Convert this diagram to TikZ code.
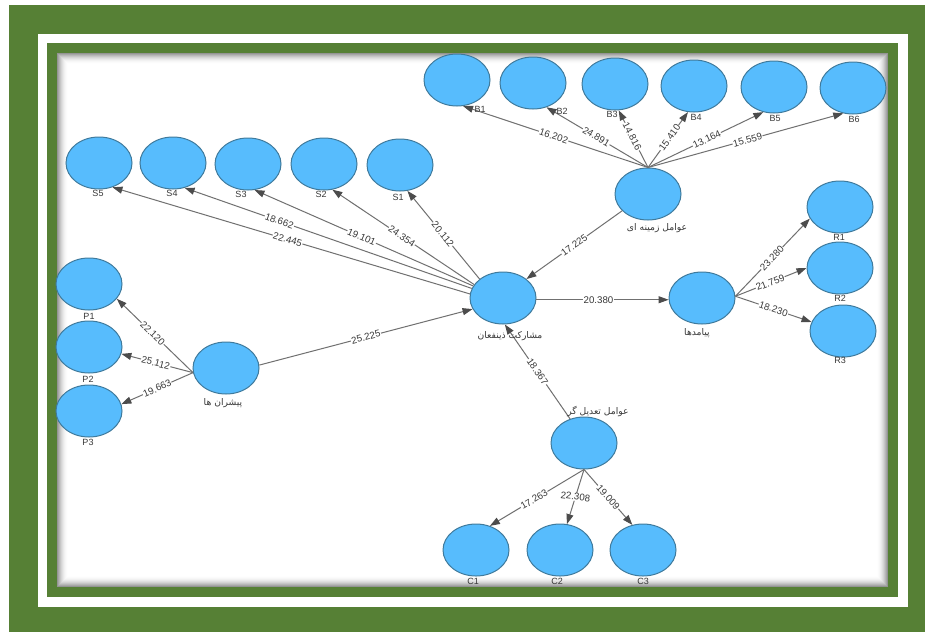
\documentclass[tikz,border=0pt]{standalone}
\usepackage{fontspec}
\setmainfont{Liberation Sans}
\newfontfamily\arabicfont[Script=Arabic]{DejaVu Sans}
\TeXXeTstate=1
\usetikzlibrary{arrows.meta,shapes.geometric}
\definecolor{frameg}{HTML}{568035}
\definecolor{ballb}{HTML}{57BCFD}
\definecolor{balle}{HTML}{3F7A9C}
\definecolor{linec}{HTML}{707070}
\definecolor{textc}{HTML}{383838}
\tikzset{
  lv/.style={ellipse,draw=balle,line width=1pt,fill=ballb,minimum width=66pt,minimum height=52pt,inner sep=0pt},
  conn/.style={draw=linec,line width=1pt,-{Triangle[length=10pt,width=7pt,color=black!70]}},
  elab/.style={fill=white,inner sep=0.6pt,font=\fontsize{9.7}{10}\selectfont,text=textc,sloped,pos=#1},
  elab/.default=0.51,
  ilab/.style={font=\fontsize{9}{10}\selectfont,text=textc,inner sep=0pt},
  alab/.style={font=\fontsize{9.2}{10}\selectfont\arabicfont,text=textc,inner sep=0pt}
}
\begin{document}
\begin{tikzpicture}[x=1pt,y=-1pt]
\useasboundingbox (0,0) rectangle (925,632);
\fill[white] (0,0) rectangle (925,632);
\fill[frameg] (9,5) rectangle (925,632);
\fill[white] (38,34) rectangle (908,607);
\fill[frameg] (47,43) rectangle (898,597);
\fill[white] (57,53) rectangle (888,587);
\foreach \i in {0,...,10}{
  \pgfmathsetmacro\g{42*(1-\i/11)*(1-\i/11)}
  \draw[black!\g,line width=1pt] (57.5+\i,53.5+\i) rectangle (887.5-\i,586.5-\i);
}
% latent variables
\node[lv] (B1) at (457,80) {};
\node[lv] (B2) at (533,83) {};
\node[lv] (B3) at (615,84) {};
\node[lv] (B4) at (694,86) {};
\node[lv] (B5) at (774,87) {};
\node[lv] (B6) at (853,88) {};
\node[lv] (Z) at (648,194) {};
\node[lv] (R1) at (840,207) {};
\node[lv] (R2) at (840,268) {};
\node[lv] (R3) at (843,331) {};
\node[lv] (S5) at (99,163) {};
\node[lv] (S4) at (173,163) {};
\node[lv] (S3) at (248,164) {};
\node[lv] (S2) at (324,164) {};
\node[lv] (S1) at (400,165) {};
\node[lv] (M) at (503,298) {};
\node[lv] (Y) at (702,298) {};
\node[lv] (T) at (584,443) {};
\node[lv] (P1) at (89,284) {};
\node[lv] (P2) at (89,347) {};
\node[lv] (P3) at (89,411) {};
\node[lv] (D) at (226,368) {};
\node[lv] (C1) at (476,550) {};
\node[lv] (C2) at (560,550) {};
\node[lv] (C3) at (643,550) {};
% connectors
\draw[conn] (Z.north) -- node[elab=.51]{16.202} (B1.-77);
\draw[conn] (Z.north) -- node[elab=.51]{24.891} (B2.-61);
\draw[conn] (Z.north) -- node[elab=.54]{14.816} (B3.-82);
\draw[conn] (Z.north) -- node[elab=.54]{15.410} (B4.-103);
\draw[conn] (Z.north) -- node[elab=.51]{13.164} (B5.-113);
\draw[conn] (Z.north) -- node[elab=.51]{15.559} (B6.-111);
\draw[conn] (M.141) -- node[elab=.51]{20.112} (S1.-74);
\draw[conn] (M.155) -- node[elab=.51]{24.354} (S2.-72);
\draw[conn] (M.158) -- node[elab=.51]{19.101} (S3.-76);
\draw[conn] (M.163) -- node[elab=.67]{18.662} (S4.-65);
\draw[conn] (M.173) -- node[elab=.51]{22.445} (S5.-61);
\draw[conn] (Z.-147) -- node[elab=.5]{17.225} (M.39);
\draw[conn] (M.-3) -- node[elab=.47]{20.380} (Y.183);
\draw[conn] (T.120) -- node[elab=.5]{18.367} (M.-86);
\draw[conn] (D.5) -- node[elab=.5]{25.225} (M.200);
\draw[conn] (D.188) -- node[elab=.53]{22.120} (P1.-28);
\draw[conn] (D.188) -- node[elab=.52]{25.112} (P2.-12);
\draw[conn] (D.188) -- node[elab=.5]{19.663} (P3.12);
\draw[conn] (Y.3) -- node[elab=.49]{23.280} (R1.201);
\draw[conn] (Y.3) -- node[elab=.49]{21.759} (R2.180);
\draw[conn] (Y.3) -- node[elab=.5]{18.230} (R3.164);
\draw[conn] (T.south) -- node[elab=.53]{17.263} (C1.60);
\draw[conn] (T.south) -- node[pos=.5,fill=white,inner sep=0.6pt,font=\fontsize{9.7}{10}\selectfont,text=textc,rotate=-7]{22.308} (C2.75);
\draw[conn] (T.south) -- node[elab=.5]{19.009} (C3.113);
% indicator labels
\node[ilab] (lB1) at (480,109) {B1};
\node[ilab] (lB2) at (562,111) {B2};
\node[ilab] (lB3) at (612,114) {B3};
\node[ilab] (lB4) at (696,117) {B4};
\node[ilab] (lB5) at (775,118) {B5};
\node[ilab] (lB6) at (854,119) {B6};
\node[ilab] (lR1) at (839,237) {R1};
\node[ilab] (lR2) at (840,298) {R2};
\node[ilab] (lR3) at (840,360) {R3};
\node[ilab] (lS5) at (98,193) {S5};
\node[ilab] (lS4) at (172,193) {S4};
\node[ilab] (lS3) at (241,194) {S3};
\node[ilab] (lS2) at (321,194) {S2};
\node[ilab] (lS1) at (398,197) {S1};
\node[ilab] (lP1) at (89,316) {P1};
\node[ilab] (lP2) at (88,379) {P2};
\node[ilab] (lP3) at (88,442) {P3};
\node[ilab] (lC1) at (473,581) {C1};
\node[ilab] (lC2) at (557,581) {C2};
\node[ilab] (lC3) at (643,581) {C3};
% construct labels
\node[alab] (lZ) at (657,228) {\beginR عوامل زمینه ای\endR};
\node[alab] (lM) at (510,336) {\beginR مشارکت ذینفعان\endR};
\node[alab] (lY) at (697,333) {\beginR پیامدها\endR};
\node[alab] (lT) at (598,411) {\beginR عوامل تعدیل گر\endR};
\node[alab] (lD) at (223,403) {\beginR پیشران ها\endR};
\end{tikzpicture}
\end{document}
